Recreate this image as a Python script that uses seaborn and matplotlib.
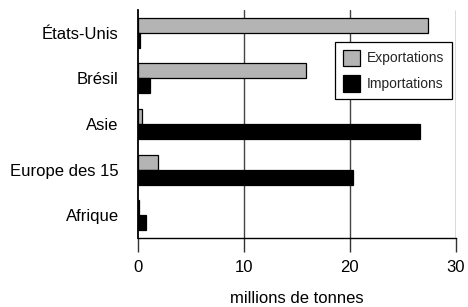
import pandas as pd
import numpy as np
import seaborn as sns
import matplotlib.pyplot as plt
from matplotlib.patches import Patch

regions = ['États-Unis', 'Brésil', 'Asie', 'Europe des 15', 'Afrique']
exportations = [27.4, 15.9, 0.35, 1.9, 0.05]
importations = [0.15, 1.1, 26.6, 20.25, 0.75]

df = pd.DataFrame({
    'region': regions * 2,
    'valeur': exportations + importations,
    'flux': ['Exportations'] * len(regions) + ['Importations'] * len(regions),
})

sns.set_style('white')
plt.rcParams['font.family'] = ['Liberation Sans', 'DejaVu Sans']

fig = plt.figure(figsize=(4.68, 3.07), dpi=100)
ax = fig.add_axes([0.295, 0.2248, 0.679, 0.7425])

couleurs = {'Exportations': '#b4b4b4', 'Importations': 'black'}
sns.barplot(data=df, y='region', x='valeur', hue='flux', order=regions,
            palette=couleurs, width=0.66, edgecolor='black', linewidth=0.9,
            orient='h', ax=ax, legend=False)

ax.set_xlim(0, 30)
ax.set_ylim(len(regions) - 0.5, -0.5)
ax.set_xticks([0, 10, 20, 30])
ax.grid(False)
for v in [10, 20, 30]:
    ax.axvline(v, color='#444444', lw=1, zorder=0)

# ticks aux limites des catégories, étiquettes au centre
ax.set_yticks(np.arange(-0.5, len(regions), 1))
ax.set_yticklabels([])
ax.set_yticks(np.arange(len(regions)), minor=True)
ax.set_yticklabels(regions, minor=True, fontsize=12, color='black')
ax.tick_params(axis='y', which='major', length=10, width=1.2, color='black', direction='out')
ax.tick_params(axis='y', which='minor', length=0, pad=14)
ax.tick_params(axis='x', length=10, width=1, color='#333333', direction='out',
               labelsize=12, labelcolor='black', pad=6, bottom=True)

ax.set_ylabel('')
ax.set_xlabel('millions de tonnes', fontsize=12, labelpad=11.5, color='black')

sns.despine(ax=ax, top=True, right=True)
ax.spines['left'].set_linewidth(1.3)
ax.spines['left'].set_color('black')
ax.spines['bottom'].set_linewidth(1)
ax.spines['bottom'].set_color('black')

handles = [Patch(facecolor=couleurs[k], edgecolor='black', lw=0.9) for k in couleurs]
leg = ax.legend(handles, list(couleurs), loc='upper right', bbox_to_anchor=(0.987, 0.86),
                fontsize=10, frameon=True, fancybox=False, edgecolor='black',
                handlelength=1.25, handleheight=1.45, handletextpad=0.45,
                borderpad=0.55, labelspacing=0.65, borderaxespad=0)
leg.get_frame().set_linewidth(0.9)
leg.get_frame().set_alpha(1)

fig.text(-0.021, 0.135, '0', fontsize=12)

plt.savefig('out.png', dpi=100)
